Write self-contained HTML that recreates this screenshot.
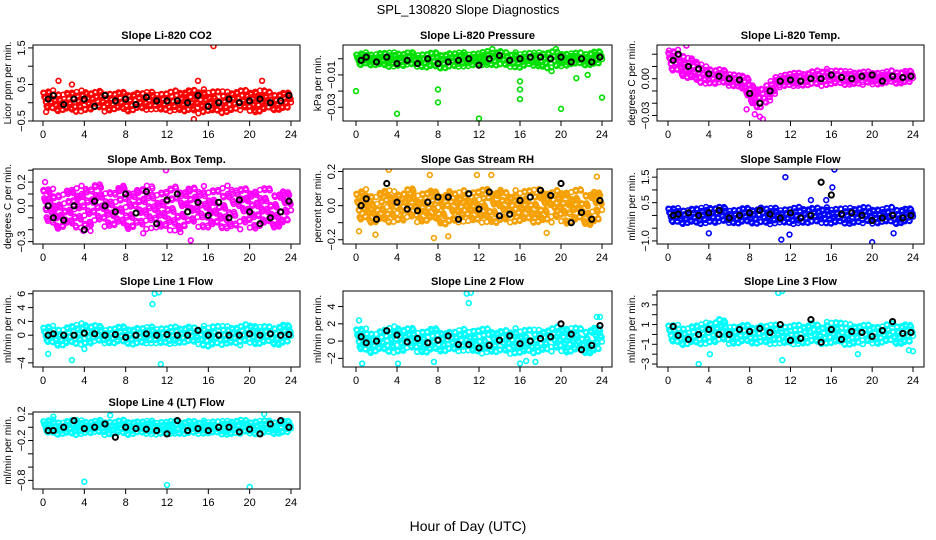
<!DOCTYPE html>
<html><head><meta charset="utf-8"><style>
body{margin:0;background:#fff}
svg{display:block;font-family:"Liberation Sans",sans-serif}
</style></head><body>
<svg id="chart" width="936" height="540" viewBox="0 0 936 540">
<text x="468" y="14" text-anchor="middle" font-size="13">SPL_130820  Slope Diagnostics</text>
<text x="468" y="531" text-anchor="middle" font-size="14">Hour of Day (UTC)</text>
<g id="panels"></g>
</svg>
<script>
const hours=[0,1,2,3,4,5,6,7,8,9,10,11,12,13,14,15,16,17,18,19,20,21,22,23,24];
const xTicks=[0,4,8,12,16,20,24];

const co2Mean=[0.1,0.2,-0.05,0.1,0.1,-0.1,0.2,0.05,0.1,-0.05,0.15,0.05,0.05,0.05,0.0,0.2,-0.1,0.0,0.1,0.0,0.05,0.1,0.0,0.05,0.2];
const co2Lo=[-0.2,-0.25,-0.2,-0.25,-0.25,-0.2,-0.25,-0.2,-0.25,-0.2,-0.2,-0.2,-0.25,-0.2,-0.3,-0.3,-0.25,-0.3,-0.25,-0.2,-0.25,-0.3,-0.2,-0.2,-0.2];
const co2Hi=[0.3,0.35,0.3,0.3,0.35,0.3,0.35,0.3,0.3,0.3,0.3,0.3,0.3,0.35,0.35,0.4,0.35,0.35,0.3,0.35,0.35,0.4,0.3,0.3,0.3];
const co2OutX=[16.5,1.5,15,14.6,21.2,2.8,0.3];
const co2OutY=[1.55,0.6,0.6,-0.45,0.6,0.5,-0.25];

const presMean=[-0.001,0.001,-0.002,0.001,-0.003,-0.001,-0.003,0.0,-0.003,-0.002,-0.001,0.0,-0.004,0.0,0.002,-0.001,0.0,0.001,0.001,0.0,0.001,-0.002,0.0,-0.002,0.001];
const presLo=[-0.006,-0.004,-0.004,-0.005,-0.005,-0.005,-0.005,-0.006,-0.006,-0.006,-0.005,-0.005,-0.004,-0.004,-0.005,-0.005,-0.006,-0.004,-0.005,-0.008,-0.005,-0.004,-0.004,-0.004,-0.004];
const presHi=[0.003,0.004,0.004,0.004,0.004,0.004,0.004,0.004,0.004,0.004,0.004,0.004,0.004,0.005,0.005,0.004,0.004,0.004,0.004,0.005,0.004,0.004,0.004,0.005,0.005];
const presOutX=[0,4,8,8,12,16,16,16,20,24,21.5,22.6,19.5,13.3];
const presOutY=[-0.02,-0.034,-0.019,-0.027,-0.037,-0.014,-0.019,-0.025,-0.031,-0.024,-0.012,-0.010,0.006,0.006];

const tempMean=[0.015,0.02,0.01,0.008,0.004,0.002,0.0,-0.001,-0.012,-0.02,-0.01,-0.002,-0.001,-0.002,0.0,0.0,0.003,0.001,0.0,0.002,0.003,-0.002,0.002,0.001,0.002];
const tempLo=[0.004,0.004,0.0,-0.003,-0.005,-0.005,-0.006,-0.007,-0.018,-0.026,-0.018,-0.007,-0.006,-0.006,-0.006,-0.006,-0.005,-0.005,-0.005,-0.005,-0.005,-0.005,-0.004,-0.004,-0.004];
const tempHi=[0.022,0.024,0.02,0.013,0.009,0.008,0.006,0.004,0.0,-0.008,-0.002,0.004,0.005,0.005,0.006,0.008,0.008,0.007,0.006,0.006,0.006,0.006,0.007,0.007,0.007];
const tempOutX=[1.8,0.1,9.3,8.5,7.7,9.0];
const tempOutY=[0.027,0.023,-0.033,-0.029,-0.025,-0.031];

const ambMean=[0.0,-0.1,-0.12,0.0,-0.2,0.04,0.0,-0.05,0.1,-0.06,0.12,-0.15,0.05,0.1,-0.05,0.03,-0.08,0.03,-0.1,0.05,-0.05,-0.15,-0.1,-0.05,0.04];
const ambLo=[-0.15,-0.2,-0.18,-0.18,-0.2,-0.18,-0.18,-0.18,-0.2,-0.18,-0.2,-0.2,-0.2,-0.22,-0.18,-0.18,-0.2,-0.18,-0.2,-0.2,-0.2,-0.2,-0.18,-0.18,-0.15];
const ambHi=[0.15,0.15,0.15,0.15,0.18,0.18,0.18,0.15,0.18,0.15,0.18,0.15,0.15,0.17,0.15,0.18,0.16,0.15,0.18,0.15,0.15,0.17,0.15,0.15,0.12];
const ambOutX=[11.9,14.3,0.2,3.9,4.6,9.7,13.3];
const ambOutY=[0.3,-0.29,0.2,-0.21,-0.21,-0.23,-0.22];

const rhMean=[0.0,0.04,-0.08,0.13,0.02,-0.02,-0.03,0.02,0.05,0.05,-0.08,0.07,-0.02,0.08,-0.06,-0.05,0.03,0.05,0.09,0.06,0.13,-0.1,-0.04,-0.08,0.03];
const rhLo=[-0.12,-0.1,-0.1,-0.1,-0.1,-0.1,-0.1,-0.1,-0.1,-0.12,-0.1,-0.1,-0.1,-0.1,-0.12,-0.1,-0.1,-0.1,-0.1,-0.1,-0.1,-0.12,-0.1,-0.12,-0.1];
const rhHi=[0.08,0.1,0.08,0.1,0.08,0.1,0.1,0.1,0.08,0.1,0.08,0.1,0.1,0.1,0.1,0.08,0.1,0.1,0.1,0.08,0.1,0.1,0.1,0.1,0.08];
const rhOutX=[3.2,7.6,9.0,1.9,7.2,11.8,13.2,18.6,23.5,0.3];
const rhOutY=[0.21,-0.19,-0.18,-0.17,0.18,0.18,0.18,-0.16,0.17,-0.15];

const flowMean=[0.0,0.05,0.1,0.0,0.1,0.2,-0.1,0.0,0.1,0.2,0.05,-0.1,0.1,-0.1,0.0,1.3,0.8,0.05,0.1,0.0,-0.2,-0.1,0.0,-0.1,0.0];
const flowLo=[-0.35,-0.35,-0.3,-0.35,-0.3,-0.35,-0.3,-0.35,-0.3,-0.35,-0.35,-0.3,-0.35,-0.3,-0.35,-0.3,-0.35,-0.3,-0.35,-0.3,-0.35,-0.3,-0.35,-0.3,-0.3];
const flowHi=[0.3,0.3,0.3,0.3,0.35,0.35,0.3,0.3,0.3,0.35,0.3,0.3,0.3,0.35,0.3,0.35,0.3,0.3,0.3,0.35,0.3,0.3,0.35,0.3,0.3];
const flowOutX=[11.5,16.3,11.1,16.1,20.0,11.9,4.0,22.1,15.5,14.0];
const flowOutY=[1.5,1.8,-0.95,1.1,-1.05,-0.75,-0.7,-0.7,0.6,0.6];

const l1Mean=[0.0,0.2,0.0,0.0,0.3,0.2,0.0,0.1,-0.3,0.0,0.2,0.0,0.1,0.0,0.0,0.7,0.0,0.0,0.0,0.0,0.2,0.0,0.2,0.0,0.1];
const l1Lo=[-1.2,-1.5,-1.5,-1.2,-1.5,-1.3,-1.2,-1.3,-1.2,-1.5,-1.2,-1.3,-1.3,-1.2,-1.2,-1.3,-1.8,-1.5,-1.2,-1.5,-1.2,-1.5,-1.2,-1.5,-1.2];
const l1Hi=[1.2,1.4,1.2,1.5,1.8,1.5,1.2,1.3,1.3,1.2,1.2,1.3,1.2,1.3,1.3,1.2,1.5,1.5,1.3,1.3,1.8,1.5,1.3,1.8,1.5];
const l1OutX=[10.8,11.2,10.6,11.4,2.8,0.5,4.0];
const l1OutY=[6.0,6.2,4.5,-4.2,-3.6,-2.7,-2.0];

const l2Mean=[0.5,-0.2,0.0,1.2,0.7,-0.1,0.3,-0.2,0.1,0.6,-0.4,-0.4,-0.8,-0.5,0.1,0.6,-0.3,0.0,0.3,0.5,2.0,0.8,-1.0,-0.5,1.8];
const l2Lo=[-1.2,-1.5,-1.2,-1.2,-1.5,-1.2,-1.3,-1.5,-1.2,-1.2,-1.2,-1.2,-1.5,-1.3,-1.5,-1.5,-1.5,-1.5,-1.2,-1.2,-1.3,-1.5,-1.3,-1.5,-1.2];
const l2Hi=[1.5,1.5,1.2,1.5,1.8,1.5,1.5,1.5,1.5,1.2,1.3,1.5,1.5,1.5,1.2,1.5,1.5,1.5,1.3,1.5,1.8,1.8,1.5,1.8,1.5];
const l2OutX=[10.8,11.0,11.2,0.3,0.6,4.1,7.6,16.0,16.6,17.5,23.5,23.8];
const l2OutY=[5.5,4.4,5.6,2.4,-2.6,-2.6,-2.4,-2.6,-2.3,-2.4,2.8,2.8];

const l3Mean=[0.8,-0.1,-0.5,0.0,0.5,0.0,0.0,0.5,0.3,0.6,0.2,1.0,-0.6,-0.4,1.5,-0.8,0.5,-0.5,0.3,0.2,-0.2,0.4,1.3,0.1,0.2];
const l3Lo=[-0.9,-1.1,-1.0,-1.0,-1.0,-0.9,-1.0,-1.0,-0.9,-1.0,-1.0,-1.0,-1.0,-1.0,-1.0,-1.0,-1.0,-1.0,-1.1,-1.0,-1.0,-1.0,-0.9,-1.0,-1.0];
const l3Hi=[1.0,1.0,0.9,1.0,1.3,1.6,1.2,1.0,1.0,1.0,1.0,1.0,1.0,1.0,1.2,1.0,1.5,1.3,1.0,1.0,1.0,1.0,1.2,1.2,1.0];
const l3OutX=[10.8,11.2,11.2,3.0,4.1,18.6,23.6,24.0];
const l3OutY=[4.2,4.4,-2.6,-3.0,-2.0,-2.0,-1.6,-1.7];

const l4Mean=[-0.05,-0.05,0.0,0.1,-0.02,0.0,0.05,-0.15,0.0,-0.02,-0.03,-0.05,-0.1,0.1,-0.05,-0.02,-0.05,0.0,0.0,-0.07,-0.03,-0.1,0.05,0.1,0.0];
const l4Lo=[-0.1,-0.12,-0.1,-0.12,-0.1,-0.1,-0.12,-0.1,-0.12,-0.1,-0.1,-0.12,-0.1,-0.1,-0.12,-0.1,-0.1,-0.1,-0.12,-0.1,-0.1,-0.12,-0.1,-0.1,-0.1];
const l4Hi=[0.1,0.12,0.1,0.12,0.1,0.1,0.12,0.1,0.12,0.1,0.1,0.1,0.1,0.1,0.1,0.1,0.1,0.1,0.1,0.12,0.1,0.12,0.1,0.12,0.1];
const l4OutX=[4.0,12.0,20.0,6.5,21.4,1.0];
const l4OutY=[-0.82,-0.87,-0.9,0.18,0.2,0.16];

const cols=[[33,300,43,291],[343,612,356,602],[657,924,668,913]];
const rows=[[45,121],[169,244],[291,367],[412,489]];

const panels=[
 {name:'co2',title:'Slope Li-820 CO2',yl:'Licor ppm per min.',c:0,r:0,ymin:-0.5,ymax:1.58,ticks:[-0.5,0,0.5,1,1.5],labs:[-0.5,0.5,1.5],col:'#ff0000',mean:co2Mean,lo:co2Lo,hi:co2Hi,ox:co2OutX,oy:co2OutY,dec:1},
 {name:'pressure',title:'Slope Li-820 Pressure',yl:'kPa per min.',c:1,r:0,ymin:-0.0385,ymax:0.0085,ticks:[0,-0.01,-0.02,-0.03],labs:[-0.01,-0.03],col:'#00e000',mean:presMean,lo:presLo,hi:presHi,ox:presOutX,oy:presOutY,dec:2},
 {name:'li820-temp',title:'Slope Li-820 Temp.',yl:'degrees C per min.',c:2,r:0,ymin:-0.0345,ymax:0.0275,ticks:[0.02,0.01,0,-0.01,-0.02,-0.03],labs:[0.0,-0.03],col:'#ff00ff',mean:tempMean,lo:tempLo,hi:tempHi,ox:tempOutX,oy:tempOutY,dec:2},
 {name:'amb-box-temp',title:'Slope Amb. Box Temp.',yl:'degrees C per min.',c:0,r:1,ymin:-0.32,ymax:0.31,ticks:[0.3,0.2,0.1,0,-0.1,-0.2,-0.3],labs:[0.2,0.0,-0.3],col:'#ff00ff',mean:ambMean,lo:ambLo,hi:ambHi,ox:ambOutX,oy:ambOutY,dec:1},
 {name:'gas-stream-rh',title:'Slope Gas Stream RH',yl:'percent per min.',c:1,r:1,ymin:-0.225,ymax:0.215,ticks:[0.2,0.1,0,-0.1,-0.2],labs:[0.2,0.0,-0.2],col:'#f5a000',mean:rhMean,lo:rhLo,hi:rhHi,ox:rhOutX,oy:rhOutY,dec:1},
 {name:'sample-flow',title:'Slope Sample Flow',yl:'ml/min per min.',c:2,r:1,ymin:-1.12,ymax:1.82,ticks:[1.5,1,0.5,0,-0.5,-1],labs:[1.5,0.5,-1.0],col:'#0000ff',mean:flowMean,lo:flowLo,hi:flowHi,ox:flowOutX,oy:flowOutY,dec:1},
 {name:'line1-flow',title:'Slope Line 1 Flow',yl:'ml/min per min.',c:0,r:2,ymin:-4.6,ymax:6.4,ticks:[6,4,2,0,-2,-4],labs:[6,4,2,0,-4],col:'#00ffff',mean:l1Mean,lo:l1Lo,hi:l1Hi,ox:l1OutX,oy:l1OutY,dec:0},
 {name:'line2-flow',title:'Slope Line 2 Flow',yl:'ml/min per min.',c:1,r:2,ymin:-3.0,ymax:5.8,ticks:[4,2,0,-2],labs:[4,2,0,-2],col:'#00ffff',mean:l2Mean,lo:l2Lo,hi:l2Hi,ox:l2OutX,oy:l2OutY,dec:0},
 {name:'line3-flow',title:'Slope Line 3 Flow',yl:'ml/min per min.',c:2,r:2,ymin:-3.3,ymax:4.4,ticks:[4,3,2,1,0,-1,-2,-3],labs:[3,1,-1,-3],col:'#00ffff',mean:l3Mean,lo:l3Lo,hi:l3Hi,ox:l3OutX,oy:l3OutY,dec:0},
 {name:'line4-flow',title:'Slope Line 4 (LT) Flow',yl:'ml/min per min.',c:0,r:3,ymin:-0.93,ymax:0.23,ticks:[0.2,0,-0.2,-0.4,-0.6,-0.8],labs:[0.2,-0.2,-0.8],col:'#00ffff',mean:l4Mean,lo:l4Lo,hi:l4Hi,ox:l4OutX,oy:l4OutY,dec:1}
];

const NS='http://www.w3.org/2000/svg';
const root=document.getElementById('panels');
function mk(tag,attrs,parent){const e=document.createElementNS(NS,tag);for(const k in attrs)e.setAttribute(k,attrs[k]);parent.appendChild(e);return e;}
function fmt(v,d){let s=v.toFixed(d);return s.replace('-','\u2212');}

panels.forEach(p=>{
  const [L,R,X0,X24]=cols[p.c];const [T,B]=rows[p.r];
  const xs=h=>X0+(X24-X0)*h/24;
  const ys=v=>B-(v-p.ymin)/(p.ymax-p.ymin)*(B-T);
  const g=mk('g',{},root);
  
  
  const clipId='clip-'+p.name;
  const cp=mk('clipPath',{id:clipId},g);mk('rect',{x:L,y:T,width:R-L,height:B-T},cp);
  const t=mk('text',{x:(L+R)/2,y:T-6,'text-anchor':'middle','font-size':11,'font-weight':'bold'},g);
  t.textContent=p.title;
  
  
  const yl=mk('text',{x:0,y:0,'text-anchor':'middle','font-size':10,transform:`translate(${L-22},${(T+B)/2}) rotate(-90)`},g);
  yl.textContent=p.yl;
  
  
  const pts=mk('g',{'clip-path':`url(#${clipId})`,fill:'none','stroke-width':1.6},g);
  
  
  let k=0;
  for(let h=0;h<24;h++){
    for(let j=0;j<22;j++){
      k++;
      const fx=((k*0.6180339)%1), fy=((k*0.7548776+0.13)%1);
      const hh=h+fx;
      const lo=p.lo[h]+(p.lo[h+1]-p.lo[h])*fx, hi=p.hi[h]+(p.hi[h+1]-p.hi[h])*fx;
      const v=lo+(hi-lo)*fy;
      const c=mk('circle',{cx:xs(hh).toFixed(1),cy:ys(v).toFixed(1),r:2.4,stroke:p.col},pts);
      
      
    }
  }
  p.ox.forEach((x,i)=>{
    const c=mk('circle',{cx:xs(x),cy:ys(p.oy[i]),r:2.4,stroke:p.col},pts);
    
    
  });
  hours.forEach((h,i)=>{
    const hx=Math.min(23.8,Math.max(0.5,h));
    const c=mk('circle',{cx:xs(hx),cy:ys(p.mean[i]),r:2.6,stroke:'#000','stroke-width':2},pts);
    
    
  });
  const box=mk('rect',{x:L,y:T,width:R-L,height:B-T,fill:'none',stroke:'#000','stroke-width':1},g);
  
  
  const xa=mk('g',{stroke:'#000','stroke-width':1},g);
  
  
  xTicks.forEach(v=>{
    mk('line',{x1:xs(v),x2:xs(v),y1:B,y2:B+5},xa);
    const tl=mk('text',{x:xs(v),y:B+17,'text-anchor':'middle','font-size':11,stroke:'none',fill:'#000'},xa);
    tl.textContent=v;
    
    
  });
  const ya=mk('g',{stroke:'#000','stroke-width':1},g);
  
  
  p.ticks.filter(v=>v>=p.ymin&&v<=p.ymax).forEach(v=>{mk('line',{x1:L-5,x2:L,y1:ys(v),y2:ys(v)},ya);});
  p.labs.forEach(v=>{
    const tl=mk('text',{x:0,y:0,'text-anchor':'middle','font-size':11,stroke:'none',fill:'#000',transform:`translate(${L-8},${ys(v)}) rotate(-90)`},ya);
    tl.textContent=fmt(v,p.dec);
    
    
  });
});
</script>
</body></html>
